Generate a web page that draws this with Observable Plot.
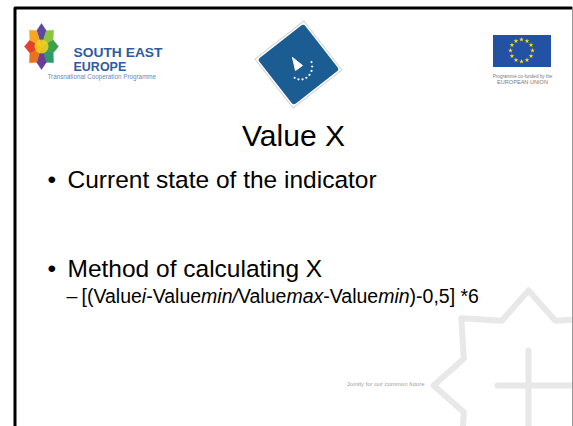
<!DOCTYPE html>
<html>
<head>
<meta charset="utf-8">
<script src="https://cdn.jsdelivr.net/npm/d3@7"></script>
<script src="https://cdn.jsdelivr.net/npm/@observablehq/plot@0.6"></script>
<style>
  html, body { margin: 0; padding: 0; background: #fff; }
  #chart svg { display: block; }
</style>
</head>
<body>
<div id="chart"></div>
<script>
// ---------- content ----------
const titleText = ["Value X"];
const bulletTexts = ["Current state of the indicator", "Method of calculating X"];
const formulaSegments = ["[(Value", "i", "-Value", "min/", "Value", "max", "-Value", "min", ")-0,5] *6"];
const formulaItalic = [false, true, false, true, false, true, false, true, false];
const seeLogoTexts = ["SOUTH EAST", "EUROPE", "Transnational Cooperation Programme"];
const euLogoTexts = ["Programme co-funded by the", "EUROPEAN UNION"];
const footerTexts = ["Jointly for our common future"];
const seeStarColors = ["#5b4aa0", "#8cc63f", "#3aa04a", "#2e9a6a", "#6a3d96", "#e8731f", "#e4412b", "#f6a623"];

// ---------- layout (pixel space of the 573x426 slide) ----------
const W = 573, H = 426;
const font = "Liberation Sans, Arial, sans-serif";
const layout = {
  title: {x: 293, y: 145, size: 30},
  bullets: [{x: 67, y: 187}, {x: 67, y: 276}],
  bulletDotX: 47,
  bulletSize: 24.5,
  formula: {x: 81, y: 302, size: 19.5, dashX: 66},
  seeStar: {cx: 41, cy: 46, rx: 17, ry: 23},
  seeText: [{x: 73, y: 56.5, size: 12.5, len: 89}, {x: 73, y: 70, size: 12.5}, {x: 47, y: 78.5, size: 6.3}],
  diamond: {cx: 298, cy: 64, rot: 52},
  eu: {x1: 493, x2: 551, y1: 35, y2: 67, cx: 521, cy: 50, r: 11},
  euText: [{x: 522, y: 77, size: 4.6}, {x: 522, y: 83.5, size: 5.6}],
  footer: {x: 424, y: 385, size: 6},
  flower: {cx: 528, cy: 385, R: 95, r: 70}
};

// ---------- derived geometry ----------
const rad = d => d * Math.PI / 180;
// SEE star: 8 coloured wedges
const s = layout.seeStar;
const starPt = (deg, k) => ({x: s.cx + s.rx * k * Math.sin(rad(deg)), y: s.cy - s.ry * k * Math.cos(rad(deg))});
const seeWedges = seeStarColors.flatMap((c, i) => {
  const a = i * 45;
  return [
    {id: i, color: c, ...starPt(0, 0)},
    {id: i, color: c, ...starPt(a - 22.5, 0.74)},
    {id: i, color: c, ...starPt(a, 1)},
    {id: i, color: c, ...starPt(a + 22.5, 0.74)},
    {id: i, color: c, ...starPt(0, 0)}
  ];
});
// flower outline (watermark)
const f = layout.flower;
const flowerPts = d3.range(17).map(i => {
  const a = i * 22.5, k = i % 2 === 0 ? f.R : f.r;
  return {x: f.cx + k * Math.sin(rad(a)), y: f.cy - k * Math.cos(rad(a))};
});
const flowerLines = [
  {id: "v", x: f.cx, y: f.cy - 35}, {id: "v", x: f.cx, y: H + 5},
  {id: "h", x: f.cx - 31, y: f.cy}, {id: "h", x: W + 5, y: f.cy}
];
// border
const border = [
  {x: 14.5, y: H + 5}, {x: 14.5, y: 7.5}, {x: 571, y: 7.5}
];
const rightEdge = [{x: 572, y: 7}, {x: 572, y: H + 5}];
// diamond inner details
const dm = layout.diamond;
const arrow = [
  {x: dm.cx - 6, y: dm.cy - 7}, {x: dm.cx + 4, y: dm.cy + 1}, {x: dm.cx - 3, y: dm.cy + 6}, {x: dm.cx - 6, y: dm.cy - 7}
];
const diamondDots = d3.range(8).map(i => {
  const a = rad(-20 + i * 20);
  return {x: dm.cx + 2 + 13 * Math.cos(a) * 0.9, y: dm.cy + 2 + 13 * Math.sin(a)};
});
// EU stars
const e = layout.eu;
const euStars = d3.range(12).map(i => ({x: e.cx + e.r * Math.sin(rad(i * 30)), y: e.cy - e.r * Math.cos(rad(i * 30))}));

const formulaFull = formulaSegments.join("");

const plot = Plot.plot({
  width: W, height: H, margin: 0,
  x: {domain: [0, W], range: [0, W], axis: null},
  y: {domain: [0, H], range: [0, H], axis: null},
  color: {type: "identity"},
  style: {background: "#fff", overflow: "hidden"},
  marks: [
    // watermark flower
    Plot.line(flowerPts, {x: "x", y: "y", stroke: "#e8e8e8", strokeWidth: 6, strokeLinejoin: "round"}),
    Plot.line(flowerLines, {x: "x", y: "y", z: "id", stroke: "#e8e8e8", strokeWidth: 6}),
    // slide frame
    Plot.line(border, {x: "x", y: "y", stroke: "#000", strokeWidth: 3}),
    Plot.line(rightEdge, {x: "x", y: "y", stroke: "#999", strokeWidth: 1}),
    // SEE logo
    Plot.line(seeWedges, {x: "x", y: "y", z: "id", fill: "color", stroke: "color", strokeWidth: 0.5}),
    Plot.dot([s], {x: "cx", y: "cy", r: 7, fill: "#f7d21b", fillOpacity: 0.85}),
    Plot.text([seeLogoTexts[0]], {x: layout.seeText[0].x, y: layout.seeText[0].y, text: d => d, textAnchor: "start", lineAnchor: "bottom", fontSize: layout.seeText[0].size, fontWeight: "bold", fill: "#2d5ca3", fontFamily: font}),
    Plot.text([seeLogoTexts[1]], {x: layout.seeText[1].x, y: layout.seeText[1].y, text: d => d, textAnchor: "start", lineAnchor: "bottom", fontSize: layout.seeText[1].size, fontWeight: "bold", fill: "#2d5ca3", fontFamily: font}),
    Plot.text([seeLogoTexts[2]], {x: layout.seeText[2].x, y: layout.seeText[2].y, text: d => d, textAnchor: "start", lineAnchor: "bottom", fontSize: layout.seeText[2].size, fill: "#6a87bd", fontFamily: font}),
    // centre diamond logo
    Plot.dot([dm], {x: "cx", y: "cy", symbol: "square", r: 35, rotate: dm.rot, fill: "#fff", stroke: "#d4d4d4", strokeWidth: 1}),
    Plot.dot([dm], {x: "cx", y: "cy", symbol: "square", r: 29.5, rotate: dm.rot, fill: "#1b5c92", stroke: "#1b5c92", strokeWidth: 6, strokeLinejoin: "round"}),
    Plot.line(arrow, {x: "x", y: "y", fill: "#fff", stroke: "#fff", strokeWidth: 1}),
    Plot.dot(diamondDots, {x: "x", y: "y", r: 1.1, fill: "#fff"}),
    // EU logo
    Plot.rect([e], {x1: "x1", x2: "x2", y1: "y1", y2: "y2", fill: "#2352a5"}),
    Plot.dot(euStars, {x: "x", y: "y", symbol: "star", r: 1.5, fill: "#ffe100"}),
    Plot.text([euLogoTexts[0]], {x: layout.euText[0].x, y: layout.euText[0].y, text: d => d, lineAnchor: "bottom", fontSize: layout.euText[0].size, fill: "#7a7a7a", fontFamily: font}),
    Plot.text([euLogoTexts[1]], {x: layout.euText[1].x, y: layout.euText[1].y, text: d => d, lineAnchor: "bottom", fontSize: layout.euText[1].size, fill: "#7a7a7a", fontFamily: font}),
    // title
    Plot.text(titleText, {x: layout.title.x, y: layout.title.y, text: d => d, lineAnchor: "bottom", fontSize: layout.title.size, fill: "#000", fontFamily: font}),
    // bullets
    Plot.text(bulletTexts, {x: layout.bulletDotX, y: (d, i) => layout.bullets[i].y, text: () => "•", textAnchor: "start", lineAnchor: "bottom", fontSize: layout.bulletSize, fill: "#000", fontFamily: font}),
    Plot.text(bulletTexts, {x: (d, i) => layout.bullets[i].x, y: (d, i) => layout.bullets[i].y, text: d => d, textAnchor: "start", lineAnchor: "bottom", fontSize: layout.bulletSize, fill: "#000", fontFamily: font}),
    // sub-bullet formula
    Plot.text(["–"], {x: layout.formula.dashX, y: layout.formula.y, text: d => d, textAnchor: "start", lineAnchor: "bottom", fontSize: layout.formula.size, fill: "#000", fontFamily: font}),
    Plot.text([formulaFull], {x: layout.formula.x, y: layout.formula.y, text: d => d, textAnchor: "start", lineAnchor: "bottom", fontSize: layout.formula.size, fill: "#000", fontFamily: font}),
    // footer tagline
    Plot.text(footerTexts, {x: layout.footer.x, y: layout.footer.y, text: d => d, textAnchor: "end", lineAnchor: "bottom", fontSize: layout.footer.size, fill: "#a0a0a0", fontFamily: font})
  ]
});

// italic parts of the formula as tspans; stretch the logo wordmark
d3.select(plot).selectAll("text").each(function() {
  if (this.textContent === formulaFull) {
    const t = d3.select(this);
    t.text(null);
    formulaSegments.forEach((seg, i) => {
      t.append("tspan").attr("font-style", formulaItalic[i] ? "italic" : null).text(seg);
    });
  } else if (this.textContent === seeLogoTexts[0]) {
    d3.select(this).attr("textLength", layout.seeText[0].len).attr("lengthAdjust", "spacingAndGlyphs");
  }
});

document.getElementById("chart").appendChild(plot);
</script>
</body>
</html>
